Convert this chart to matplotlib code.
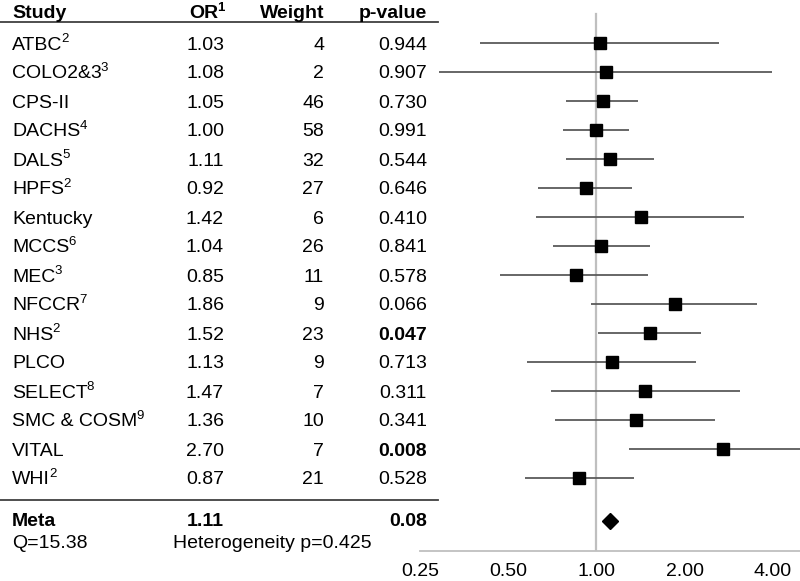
import matplotlib.pyplot as plt
import matplotlib.transforms as mtransforms
import numpy as np

plt.rcParams['font.family'] = 'Liberation Sans'

studies = ['ATBC', 'COLO2&3', 'CPS-II', 'DACHS', 'DALS', 'HPFS', 'Kentucky', 'MCCS',
           'MEC', 'NFCCR', 'NHS', 'PLCO', 'SELECT', 'SMC & COSM', 'VITAL', 'WHI']
notes = ['2', '3', '', '4', '5', '2', '', '6', '3', '7', '2', '', '8', '9', '', '2']
odds = [1.03, 1.08, 1.05, 1.00, 1.11, 0.92, 1.42, 1.04, 0.85, 1.86, 1.52, 1.13, 1.47, 1.36, 2.70, 0.87]
ci_low = [0.40, 0.29, 0.79, 0.77, 0.79, 0.63, 0.62, 0.71, 0.47, 0.96, 1.01, 0.58, 0.70, 0.72, 1.29, 0.57]
ci_high = [2.62, 3.98, 1.39, 1.29, 1.57, 1.32, 3.20, 1.52, 1.50, 3.53, 2.28, 2.19, 3.09, 2.53, 5.60, 1.34]
weights = [4, 2, 46, 58, 32, 27, 6, 26, 11, 9, 23, 9, 7, 10, 7, 21]
pvals = ['0.944', '0.907', '0.730', '0.991', '0.544', '0.646', '0.410', '0.841',
         '0.578', '0.066', '0.047', '0.713', '0.311', '0.341', '0.008', '0.528']
bold_p = ['0.047', '0.008']
meta_or = 1.11
meta_p = '0.08'
q_text = 'Q=15.38'
het_text = 'Heterogeneity p=0.425'
ticks = [0.25, 0.5, 1, 2, 4]
tick_labels = ['0.25', '0.50', '1.00', '2.00', '4.00']

W, H = 800, 581
fig = plt.figure(figsize=(8, 5.81), dpi=100)
# forest panel: x from 420px to 800px, y from 0px to 551px
ax = fig.add_axes([420 / W, (H - 551) / H, 380 / W, 551 / H])

n = len(studies)
rows = np.arange(n)
# row i sits at pixel 43 + 29*i
ax.set_ylim((551 - 43) / 29, -43 / 29)
ax.set_xscale('log', base=2)
ax.set_xlim(0.25, 4.95)

meta_y = (521 - 43) / 29
q_y = (542 - 43) / 29
head_y = (12 - 43) / 29

ax.plot([1, 1], [(14 - 43) / 29, (551 - 43) / 29], color='#bfbfbf', lw=1.6, zorder=1)
ax.hlines(rows, ci_low, ci_high, color='#5a5a5a', lw=1.3, zorder=2)
ax.plot(odds, rows, 's', color='black', ms=8.5, zorder=3)
ax.plot([meta_or], [meta_y], 'D', color='black', ms=8.5, zorder=3)

for s in ['top', 'right', 'left']:
    ax.spines[s].set_visible(False)
ax.spines['bottom'].set_color('#bfbfbf')
ax.spines['bottom'].set_linewidth(1.3)
ax.set_xticks(ticks)
ax.set_xticklabels(tick_labels)
ax.minorticks_off()
ax.tick_params(axis='x', length=0, pad=9, labelsize=14, colors='black')
ax.set_yticks([])
ax.patch.set_alpha(0)

tr = mtransforms.blended_transform_factory(fig.transFigure, ax.transData)
fs = 14
va = 'center_baseline'
x_study, x_or, x_w, x_p = 12 / W, 224 / W, 324 / W, 427 / W
renderer = fig.canvas.get_renderer()


def with_note(x, y, label, note, ha='left', **kw):
    t = ax.text(x, y, label, transform=tr, fontsize=fs, va=va, ha=ha, **kw)
    if note:
        x1 = t.get_window_extent(renderer).x1
        ax.text((x1 - 1) / W, y - 0.13, note, transform=tr, fontsize=9.5,
                va='center', ha='left', **kw)
    return t


with_note(x_study, head_y, 'Study', '', fontweight='bold')
with_note(x_or - 6 / W, head_y, 'OR', '1', ha='right', fontweight='bold')
ax.text(x_w, head_y, 'Weight', transform=tr, fontsize=fs, fontweight='bold', va=va, ha='right')
ax.text(x_p, head_y, 'p-value', transform=tr, fontsize=fs, fontweight='bold', va=va, ha='right')

for i in range(n):
    with_note(x_study, i, studies[i], notes[i])
    ax.text(x_or, i, '%.2f' % odds[i], transform=tr, fontsize=fs, va=va, ha='right')
    ax.text(x_w, i, str(weights[i]), transform=tr, fontsize=fs, va=va, ha='right')
    ax.text(x_p, i, pvals[i], transform=tr, fontsize=fs, va=va, ha='right',
            fontweight='bold' if pvals[i] in bold_p else 'normal')

ax.text(x_study, meta_y - 0.05, 'Meta', transform=tr, fontsize=fs, fontweight='bold', va=va, ha='left')
ax.text(x_or, meta_y - 0.05, '%.2f' % meta_or, transform=tr, fontsize=fs, fontweight='bold', va=va, ha='right')
ax.text(x_p, meta_y - 0.05, meta_p, transform=tr, fontsize=fs, fontweight='bold', va=va, ha='right')
ax.text(x_study, q_y, q_text, transform=tr, fontsize=fs, va=va, ha='left')
ax.text(173 / W, q_y, het_text, transform=tr, fontsize=fs, va=va, ha='left')

# table rules
for yy in [(22 - 43) / 29, (500 - 43) / 29]:
    ax.plot([0, 438 / W], [yy, yy], transform=tr, color='#404040', lw=1.3, clip_on=False)

plt.savefig('out.png', dpi=100)
